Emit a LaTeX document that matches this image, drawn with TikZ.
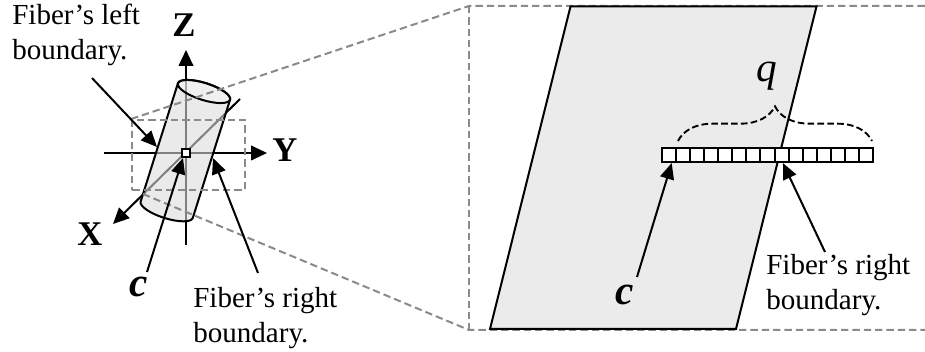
\documentclass[tikz,border=0pt]{standalone}
\usepackage{fontspec}
\setmainfont{Liberation Serif}
\usepackage{xcolor}
\usetikzlibrary{arrows.meta,decorations.pathreplacing}
\definecolor{ccFill}{HTML}{ebebeb}
\definecolor{ccDash}{HTML}{8a8a8a}

\begin{document}
\begin{tikzpicture}[
  x=0.75pt, y=-0.75pt,
  ax/.style={-{Triangle[length=12pt,width=11pt]}, line width=1.5pt},
  ptr/.style={-{Triangle[length=12pt,width=10.5pt]}, line width=1.5pt},
  zoomln/.style={ccDash, line width=1.5pt, dash pattern=on 5.5pt off 3pt},
  lbl/.style={font=\fontsize{21.8pt}{26.2pt}\selectfont, align=left, inner sep=0pt},
  axlbl/.style={font=\fontsize{26pt}{26pt}\selectfont\bfseries, inner sep=0pt, anchor=base},
  sym/.style={font=\fontsize{31pt}{31pt}\selectfont\bfseries\itshape, inner sep=0pt, anchor=base},
  cell/.style={draw, fill=white, line width=1.5pt, minimum width=10.55pt, minimum height=10.6pt, inner sep=0pt, anchor=west},
]
\useasboundingbox (0,0) rectangle (925,352);
% axes (the cylinder is laid over them)
\coordinate (O) at (186,153);
\coordinate (zs) at (186,245);
\coordinate (zt) at (186,50);
\coordinate (ys) at (104,153);
\coordinate (yt) at (267,153);
\coordinate (xs) at (240,99);
\coordinate (xt) at (113,224);
\draw[ax] (zs) -- (zt);
\draw[ax] (ys) -- (yt);
\draw[ax] (xs) -- (xt);
% fiber cylinder
\begin{scope}[shift={(204,91.5)}, rotate=-17.5]
\draw[line width=1.5pt, fill=black!14, fill opacity=0.58] (-20.5pt,0pt) -- (-20.5pt,-93pt)
  arc[start angle=180, end angle=360, x radius=20.5pt, y radius=6.4pt] -- (20.5pt,0pt)
  arc[start angle=0, end angle=180, x radius=20.5pt, y radius=6.4pt] -- cycle;
\draw[line width=1.5pt, fill=white, fill opacity=0.3] (0pt,0pt) ellipse[x radius=20.5pt, y radius=6.4pt];
\end{scope}
% zoom frames
\node[draw, zoomln, minimum width=84.5pt, minimum height=52.5pt, inner sep=0pt] (win) at (188.5,155) {};
\coordinate (winb) at (143,194);
\coordinate (bigtl) at (469,6);
\coordinate (bigbl) at (469,330);
\draw[zoomln] (win.north west) -- (bigtl) -- (925,6);
\draw[zoomln] (winb) -- (bigbl) -- (925,330);
\draw[zoomln] (bigtl) -- (bigbl);
% center voxel
\node[draw, fill=white, line width=1.5pt, minimum size=6pt, inner sep=0pt] (cvox) at (O) {};
% right panel: fiber slice
\draw[line width=1.5pt, fill=ccFill] (570.5,6.5) -- (816.5,6.5) -- (736,329) -- (490,329) -- cycle;
% sample strip
\foreach \i in {0,...,14} {
  \node[cell] (s\i) at (661+14.07*\i,155) {};
}
\draw[line width=1.4pt, dash pattern=on 5pt off 2.4pt, decorate, decoration={brace, amplitude=26pt}] (678,141) -- (872,141);
% labels
\node[lbl, anchor=west] (lleft) at (12,35) {Fiber’s left\\boundary.};
\node[lbl, anchor=west] (lright) at (193,318) {Fiber’s right\\boundary.};
\node[lbl, anchor=west] (lrightb) at (766,285) {Fiber’s right\\boundary.};
\node[axlbl] (zl) at (184,37) {Z};
\node[axlbl] (yl) at (285,162) {Y};
\node[axlbl] (xl) at (90,246) {X};
\node[sym] (cl) at (139,297) {c};
\node[sym] (cr) at (625,305) {c};
\node[font=\fontsize{31pt}{31pt}\selectfont\itshape, inner sep=0pt, anchor=base] (ql) at (767,82) {q};
% pointers
\coordinate (p1) at (92,78);
\coordinate (p2) at (147,272);
\coordinate (p3) at (258,273);
\coordinate (p4) at (637,277);
\coordinate (p5) at (825,252);
\draw[ptr] (p1) -- (157,147);
\draw[ptr] (p2) -- (183,158);
\draw[ptr] (p3) -- (213,158);
\draw[ptr] (p4) -- ([xshift=2pt]s0.south);
\draw[ptr] (p5) -- ([xshift=1pt]s8.south);
\end{tikzpicture}
\end{document}
